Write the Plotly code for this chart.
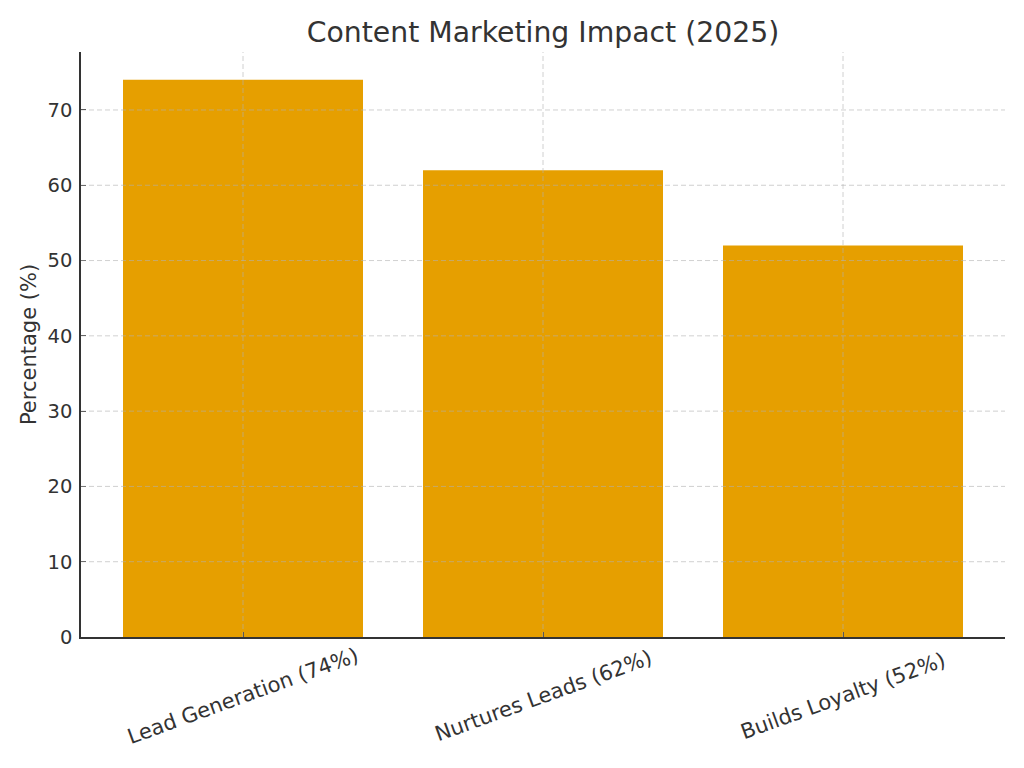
import plotly.graph_objects as go

# data
categories = ["Lead Generation (74%)", "Nurtures Leads (62%)", "Builds Loyalty (52%)"]
percentages = [74, 62, 52]
y_ticks = [0, 10, 20, 30, 40, 50, 60, 70]

font = "DejaVu Sans"
ink = "#333333"
grid = dict(color="rgba(176,176,176,0.6)", width=1, dash="5px,3px")

xpos = list(range(len(categories)))

fig = go.Figure()
fig.add_trace(go.Bar(
    x=xpos,
    y=percentages,
    width=0.8,
    marker=dict(color="#E69F00", line=dict(width=0)),
))

# grid drawn over the bars, like the original
for v in y_ticks[1:]:
    fig.add_shape(type="line", xref="paper", yref="y", x0=0, x1=1, y0=v, y1=v,
                  line=grid, layer="above")
for i in xpos:
    fig.add_shape(type="line", xref="x", yref="paper", x0=i, x1=i, y0=0, y1=1,
                  line=grid, layer="above")

# rotated category labels, centred under each tick
for i, name in zip(xpos, categories):
    fig.add_annotation(x=i, y=0, xref="x", yref="paper", text=name, showarrow=False,
                       textangle=-20, yanchor="middle", xanchor="center", yshift=-59,
                       font=dict(size=21, color=ink))

fig.update_layout(
    width=1024, height=768,
    margin=dict(l=73, r=27, t=44, b=139),
    plot_bgcolor="white", paper_bgcolor="white",
    font=dict(family=font, color=ink, size=19.5),
    showlegend=False,
    title=dict(text="Content Marketing Impact (2025)", xref="paper", x=0.5, xanchor="center",
               y=0.969, yanchor="middle", font=dict(size=28.3, color=ink)),
)

fig.update_xaxes(
    range=[-0.54, 2.54],
    tickmode="array", tickvals=xpos, showticklabels=False,
    ticks="inside", ticklen=5, tickcolor=ink,
    showline=True, linecolor=ink, linewidth=1.5,
    showgrid=False, zeroline=False, layer="above traces",
)
fig.update_yaxes(
    range=[0, 77.7],
    tickmode="array", tickvals=y_ticks,
    ticks="inside", ticklen=5, tickcolor=ink, ticklabelstandoff=3,
    showline=True, linecolor=ink, linewidth=1.5,
    showgrid=False, zeroline=False, layer="above traces",
    title=dict(text="Percentage (%)", standoff=5, font=dict(size=21, color=ink)),
)

fig.write_html("out.html")
